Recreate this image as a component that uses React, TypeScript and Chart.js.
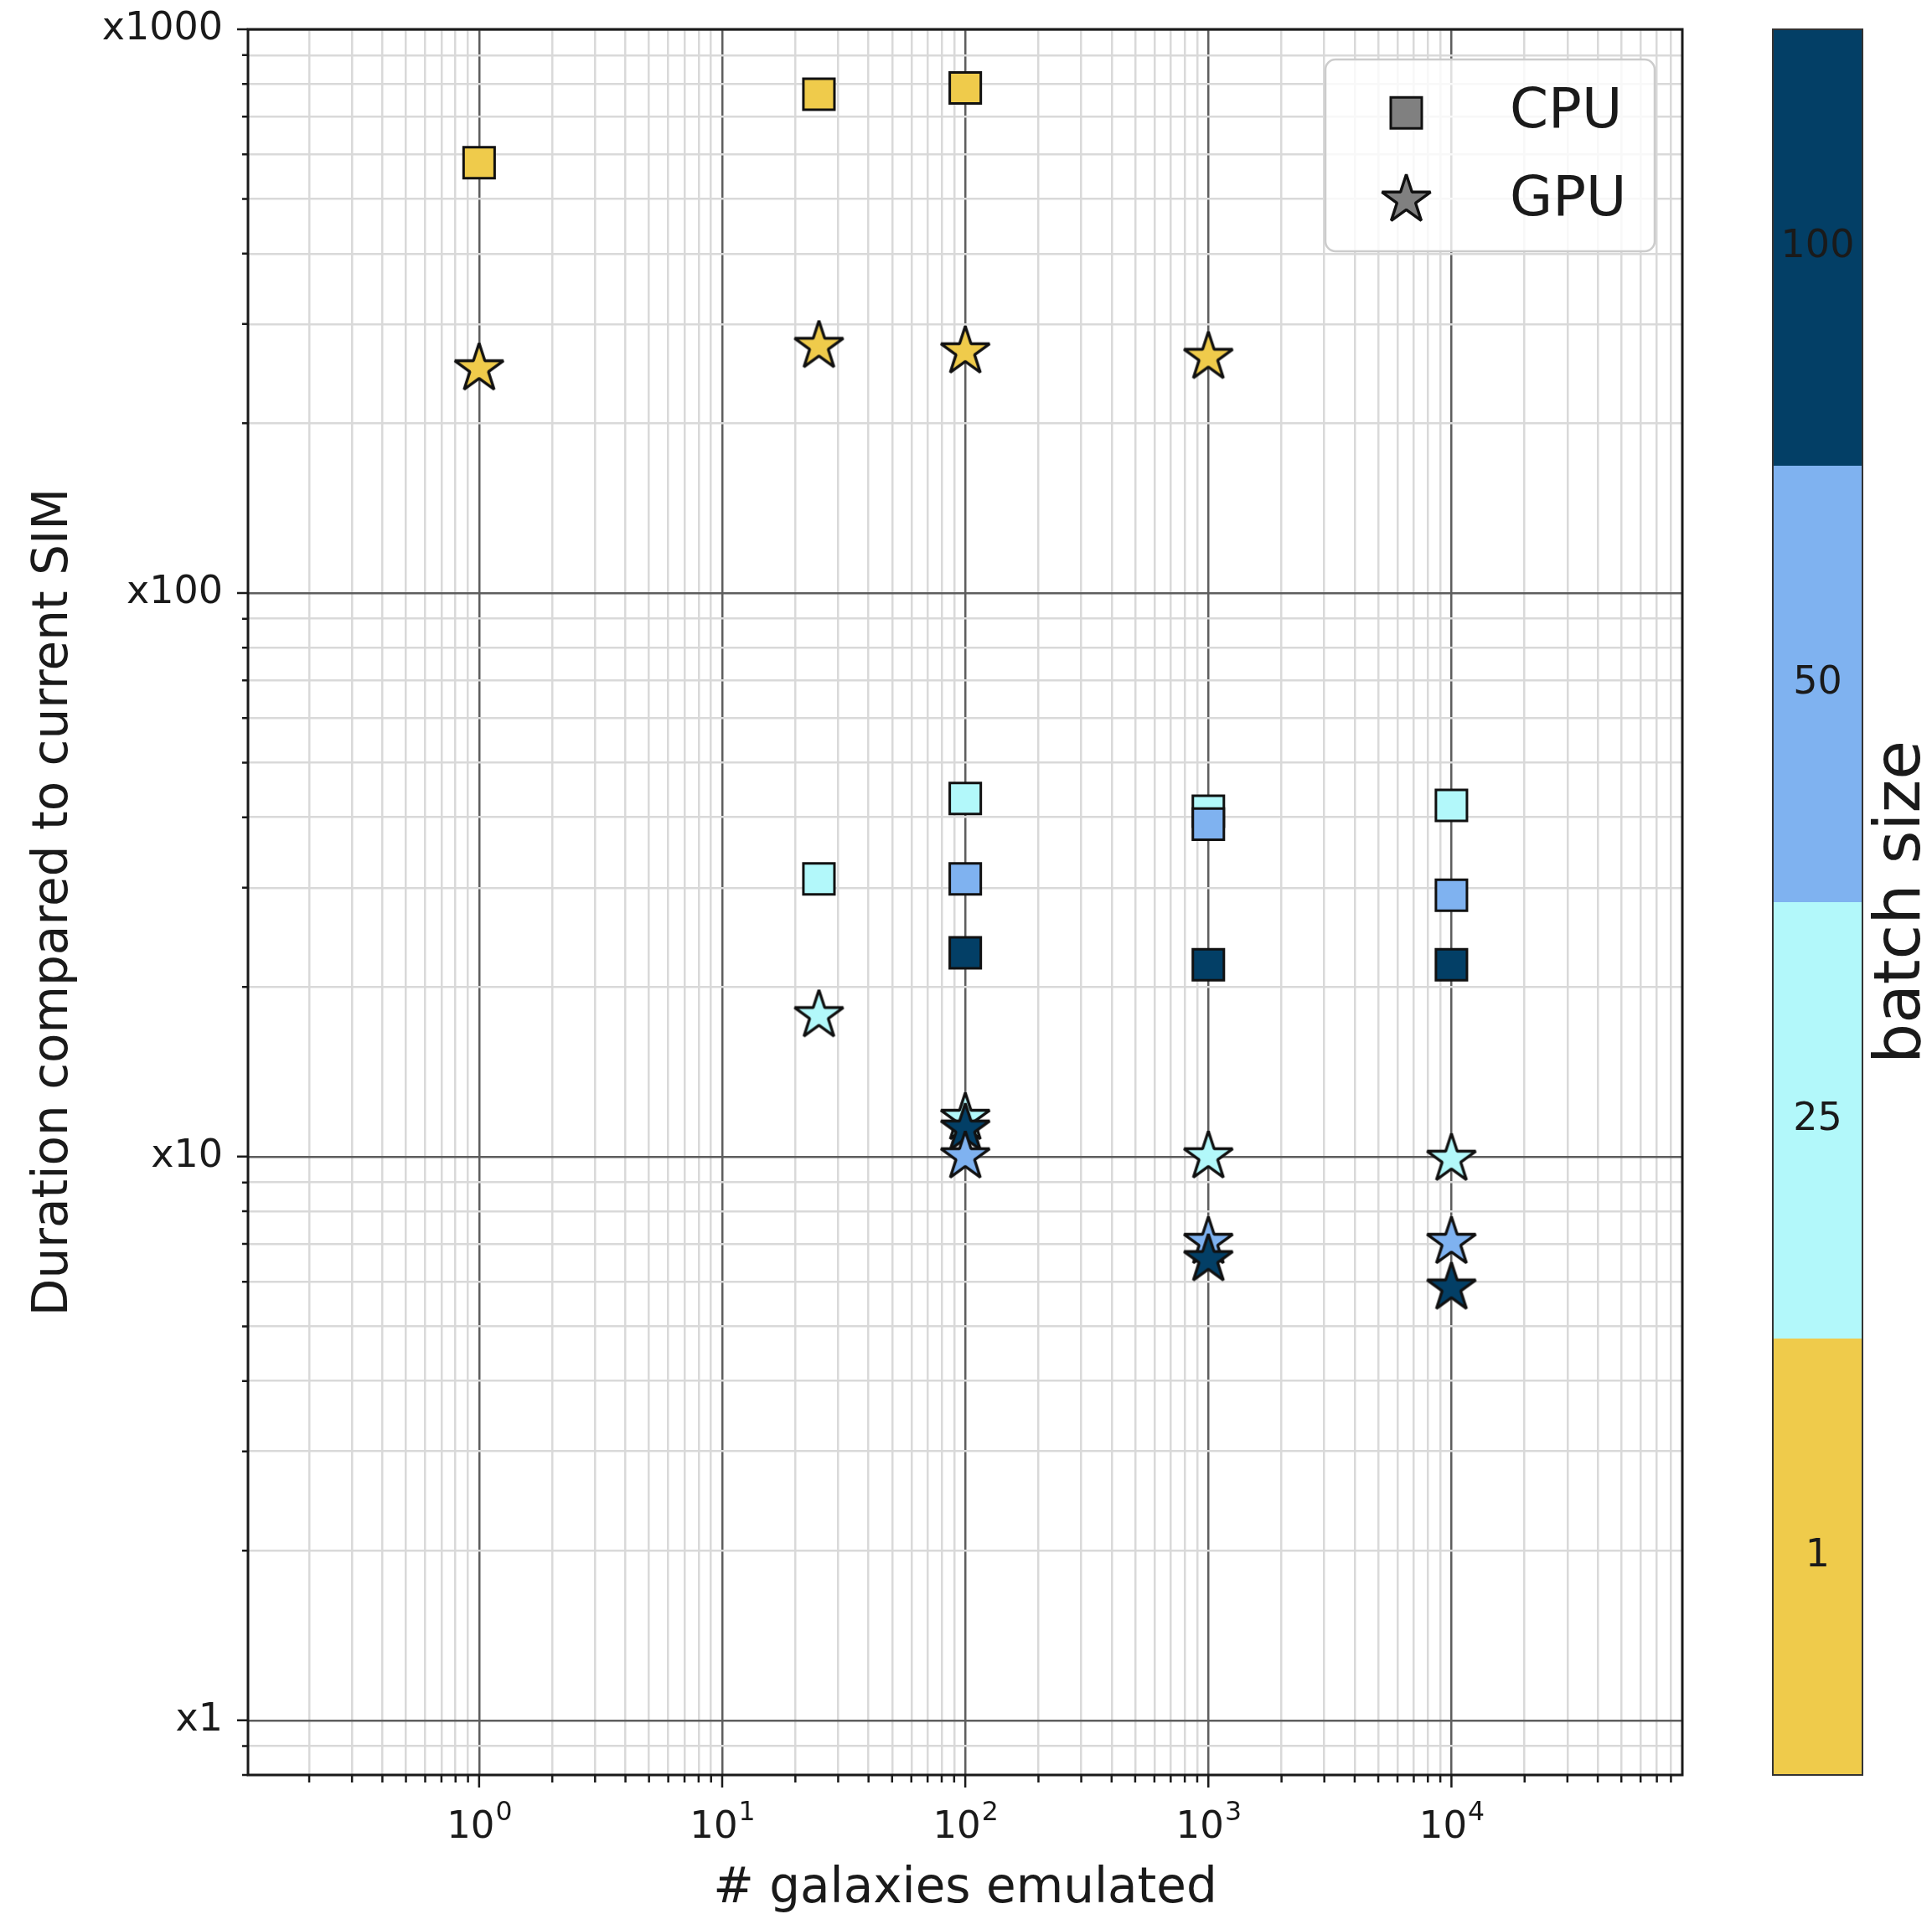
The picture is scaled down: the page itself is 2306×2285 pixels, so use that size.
import React, { useEffect, useRef } from 'react';
import { Chart, registerables } from 'chart.js';

Chart.register(...registerables);

// ---- batch sizes / colour map ----
const BATCH_SIZES = [1, 25, 50, 100];
const BATCH_LABELS = ['1', '25', '50', '100'];
const BATCH_COLORS = ['#EFCB4B', '#B2F8FA', '#7FB2F0', '#033F66'];

// ---- CPU (squares) ----
const CPU_B1_X = [1, 25, 100];
const CPU_B1_Y = [580, 767, 787];
const CPU_B25_X = [25, 100, 1000, 10000];
const CPU_B25_Y = [31.1, 43.2, 41.0, 42.0];
const CPU_B50_X = [100, 1000, 10000];
const CPU_B50_Y = [31.1, 38.9, 29.1];
const CPU_B100_X = [100, 1000, 10000];
const CPU_B100_Y = [23.0, 21.9, 21.9];

// ---- GPU (stars) ----
const GPU_B1_X = [1, 25, 100, 1000];
const GPU_B1_Y = [250, 274, 268, 262];
const GPU_B25_X = [25, 100, 1000, 10000];
const GPU_B25_Y = [17.8, 11.7, 10.0, 9.9];
const GPU_B50_X = [100, 1000, 10000];
const GPU_B50_Y = [10.0, 7.05, 7.05];
const GPU_B100_X = [100, 1000, 10000];
const GPU_B100_Y = [11.2, 6.57, 5.85];

// ---- axes ----
const X_MIN = 0.112;
const X_MAX = 89100;
const Y_MIN = 0.8;
const Y_MAX = 1000;
const X_MAJOR = [1, 10, 100, 1000, 10000];
const X_MAJOR_EXP = ['0', '1', '2', '3', '4'];
const Y_MAJOR = [1, 10, 100, 1000];
const Y_MAJOR_LABELS = ['x1', 'x10', 'x100', 'x1000'];
const X_TITLE = '# galaxies emulated';
const Y_TITLE = 'Duration compared to current SIM';
const CBAR_TITLE = 'batch size';
const LEGEND_LABELS = ['CPU', 'GPU'];
const LEGEND_COLOR = '#808080';

const FONT = "'DejaVu Sans', 'Liberation Sans', sans-serif";
const TEXT = '#1a1a1a';
const EDGE = '#111111';

function isMajor(v: number) {
  const l = Math.log10(v);
  return Math.abs(l - Math.round(l)) < 1e-9;
}

function logTicks(min: number, max: number) {
  const out: number[] = [];
  const e0 = Math.floor(Math.log10(min));
  const e1 = Math.ceil(Math.log10(max));
  for (let e = e0; e <= e1; e++) {
    for (let m = 1; m <= 9; m++) {
      const v = parseFloat((m * Math.pow(10, e)).toPrecision(6));
      if (v >= min * 0.9999 && v <= max * 1.0001) out.push(v);
    }
  }
  return out;
}

function starPath(g: CanvasRenderingContext2D, cx: number, cy: number, R: number) {
  const r = R * 0.381966;
  g.beginPath();
  for (let i = 0; i < 10; i++) {
    const ang = -Math.PI / 2 + (i * Math.PI) / 5;
    const rr = i % 2 === 0 ? R : r;
    const x = cx + rr * Math.cos(ang);
    const y = cy + rr * Math.sin(ang);
    if (i === 0) g.moveTo(x, y);
    else g.lineTo(x, y);
  }
  g.closePath();
}

const STAR_R = 30.5;
const STAR_LW = 3.4;

function makeStar(fill: string): HTMLCanvasElement {
  const size = Math.ceil(2 * (STAR_R + STAR_LW)) + 4;
  const c = document.createElement('canvas');
  c.width = size;
  c.height = size;
  const g = c.getContext('2d')!;
  starPath(g, size / 2, size / 2, STAR_R);
  g.fillStyle = fill;
  g.fill();
  g.lineWidth = STAR_LW;
  g.lineJoin = 'bevel';
  g.strokeStyle = EDGE;
  g.stroke();
  return c;
}

type Pt = { x: number; y: number; b: number };

function collect(groups: [number[], number[]][]): Pt[] {
  const pts: Pt[] = [];
  groups.forEach(([xs, ys], b) => {
    xs.forEach((x, i) => pts.push({ x, y: ys[i], b }));
  });
  // lower values are drawn on top
  pts.sort((a, c) => c.y - a.y);
  return pts;
}

const decorPlugin = {
  id: 'decor',
  afterDraw(chart: any) {
    const ctx: CanvasRenderingContext2D = chart.ctx;
    const { left, right, top, bottom } = chart.chartArea;
    const xs = chart.scales.x;
    const ys = chart.scales.y;
    ctx.save();

    // tick marks
    ctx.strokeStyle = TEXT;
    ctx.lineWidth = 2.5;
    ctx.beginPath();
    xs.ticks.forEach((t: any) => {
      const px = xs.getPixelForValue(t.value);
      const L = isMajor(t.value) ? 15 : 9;
      ctx.moveTo(px, bottom);
      ctx.lineTo(px, bottom + L);
    });
    ys.ticks.forEach((t: any) => {
      const py = ys.getPixelForValue(t.value);
      const L = isMajor(t.value) ? 13 : 7;
      ctx.moveTo(left, py);
      ctx.lineTo(left - L, py);
    });
    ctx.stroke();

    // spines
    ctx.lineWidth = 3;
    ctx.strokeStyle = TEXT;
    ctx.strokeRect(left, top, right - left, bottom - top);

    // x tick labels (10^n)
    ctx.fillStyle = TEXT;
    ctx.textBaseline = 'alphabetic';
    ctx.textAlign = 'left';
    const big = `45px ${FONT}`;
    const small = `31.5px ${FONT}`;
    X_MAJOR.forEach((v, i) => {
      const px = xs.getPixelForValue(v);
      ctx.font = big;
      const w1 = ctx.measureText('10').width;
      ctx.font = small;
      const w2 = ctx.measureText(X_MAJOR_EXP[i]).width;
      const x0 = px - (w1 + w2) / 2;
      ctx.font = big;
      ctx.fillText('10', x0, 2194);
      ctx.font = small;
      ctx.fillText(X_MAJOR_EXP[i], x0 + w1 + 1, 2173);
    });

    // axis titles
    ctx.font = `58px ${FONT}`;
    ctx.textAlign = 'center';
    ctx.fillText(X_TITLE, (left + right) / 2, 2271);
    ctx.save();
    ctx.translate(80, (top + bottom) / 2);
    ctx.rotate(-Math.PI / 2);
    ctx.fillText(Y_TITLE, 0, 0);
    ctx.restore();

    // legend
    const lx = 1582, ly = 71, lw = 393, lh = 229;
    ctx.beginPath();
    (ctx as any).roundRect(lx, ly, lw, lh, 12);
    ctx.fillStyle = 'rgba(255,255,255,0.8)';
    ctx.fill();
    ctx.lineWidth = 2.5;
    ctx.strokeStyle = '#cccccc';
    ctx.stroke();
    // square
    ctx.fillStyle = LEGEND_COLOR;
    ctx.strokeStyle = EDGE;
    ctx.lineWidth = 3;
    ctx.beginPath();
    ctx.rect(1678.5 - 18.5, 134.8 - 18.5, 37, 37);
    ctx.fill();
    ctx.stroke();
    // star
    starPath(ctx, 1678.5, 238.7, STAR_R);
    ctx.fill();
    ctx.lineWidth = STAR_LW;
    ctx.lineJoin = 'bevel';
    ctx.stroke();
    ctx.lineJoin = 'miter';
    ctx.fillStyle = TEXT;
    ctx.font = `66px ${FONT}`;
    ctx.textAlign = 'left';
    ctx.fillText(LEGEND_LABELS[0], 1802, 151.5);
    ctx.fillText(LEGEND_LABELS[1], 1802, 257);

    // colour bar
    const cx0 = 2116, cx1 = 2223;
    const n = BATCH_SIZES.length;
    const segH = (bottom - top) / n;
    for (let i = 0; i < n; i++) {
      const y1 = bottom - i * segH;
      const y0 = y1 - segH;
      ctx.fillStyle = BATCH_COLORS[i];
      ctx.fillRect(cx0, y0, cx1 - cx0, y1 - y0);
    }
    ctx.strokeStyle = '#333333';
    ctx.lineWidth = 2;
    ctx.strokeRect(cx0, top, cx1 - cx0, bottom - top);
    ctx.fillStyle = TEXT;
    ctx.font = `46px ${FONT}`;
    ctx.textAlign = 'center';
    ctx.textBaseline = 'middle';
    for (let i = 0; i < n; i++) {
      const yc = bottom - (i + 0.5) * segH;
      ctx.fillText(BATCH_LABELS[i], (cx0 + cx1) / 2, yc);
    }
    ctx.textBaseline = 'alphabetic';
    ctx.font = `76px ${FONT}`;
    ctx.save();
    ctx.translate(2291, (top + bottom) / 2);
    ctx.rotate(-Math.PI / 2);
    ctx.fillText(CBAR_TITLE, 0, 0);
    ctx.restore();

    ctx.restore();
  },
};

export default function App() {
  const ref = useRef<HTMLCanvasElement | null>(null);

  useEffect(() => {
    if (!ref.current) return;
    const stars = BATCH_COLORS.map((c) => makeStar(c));
    const cpu = collect([
      [CPU_B1_X, CPU_B1_Y],
      [CPU_B25_X, CPU_B25_Y],
      [CPU_B50_X, CPU_B50_Y],
      [CPU_B100_X, CPU_B100_Y],
    ]);
    const gpu = collect([
      [GPU_B1_X, GPU_B1_Y],
      [GPU_B25_X, GPU_B25_Y],
      [GPU_B50_X, GPU_B50_Y],
      [GPU_B100_X, GPU_B100_Y],
    ]);
    const xTicks = logTicks(X_MIN, X_MAX);
    const yTicks = logTicks(Y_MIN, Y_MAX);

    const gridColor = (c: any) =>
      c.tick && isMajor(c.tick.value) ? '#5e5e5e' : '#d9d9d9';

    const chart = new Chart(ref.current, {
      type: 'scatter',
      data: {
        datasets: [
          {
            label: 'CPU',
            data: cpu.map((p) => ({ x: p.x, y: p.y })),
            pointStyle: 'rect',
            pointRadius: 26.2,
            pointHoverRadius: 26.2,
            pointBackgroundColor: cpu.map((p) => BATCH_COLORS[p.b]),
            pointBorderColor: EDGE,
            pointBorderWidth: 3,
            pointHoverBorderWidth: 3,
          } as any,
          {
            label: 'GPU',
            data: gpu.map((p) => ({ x: p.x, y: p.y })),
            pointStyle: gpu.map((p) => stars[p.b]),
            pointRadius: 30,
            pointHoverRadius: 30,
            pointBackgroundColor: gpu.map((p) => BATCH_COLORS[p.b]),
            pointBorderColor: EDGE,
          } as any,
        ],
      },
      options: {
        animation: false,
        responsive: false,
        maintainAspectRatio: false,
        devicePixelRatio: 1,
        events: [],
        layout: { padding: { left: 0, top: 35, right: 298, bottom: 0 } },
        plugins: {
          legend: { display: false },
          tooltip: { enabled: false },
        },
        scales: {
          x: {
            type: 'logarithmic',
            position: 'bottom',
            min: X_MIN,
            max: X_MAX,
            afterBuildTicks: (s: any) => {
              s.ticks = xTicks.map((v) => ({ value: v, major: isMajor(v) }));
            },
            afterFit: (s: any) => {
              s.height = 166;
              s.paddingLeft = 0;
              s.paddingRight = 0;
              s.paddingTop = 0;
              s.paddingBottom = 0;
            },
            ticks: { display: false, autoSkip: false },
            grid: { color: gridColor, lineWidth: 2.5, drawTicks: false },
            border: { display: false },
          },
          y: {
            type: 'logarithmic',
            position: 'left',
            min: Y_MIN,
            max: Y_MAX,
            afterBuildTicks: (s: any) => {
              s.ticks = yTicks.map((v) => ({ value: v, major: isMajor(v) }));
            },
            afterFit: (s: any) => {
              s.width = 296;
              s.paddingTop = 0;
              s.paddingBottom = 0;
              s.paddingLeft = 0;
              s.paddingRight = 0;
            },
            ticks: {
              autoSkip: false,
              padding: 30,
              color: TEXT,
              font: { family: FONT, size: 46 },
              callback: (value: any) => {
                const v = Number(value);
                const idx = Y_MAJOR.findIndex((m) => Math.abs(m - v) / m < 1e-6);
                return idx >= 0 ? Y_MAJOR_LABELS[idx] : '';
              },
            },
            grid: { color: gridColor, lineWidth: 2.5, drawTicks: false },
            border: { display: false },
          },
        },
      } as any,
      plugins: [decorPlugin],
    });
    return () => chart.destroy();
  }, []);

  return (
    <div
      style={{
        position: 'fixed',
        left: 0,
        top: 0,
        width: 2306,
        height: 2285,
        background: '#ffffff',
      }}
    >
      <canvas
        ref={ref}
        width={2306}
        height={2285}
        style={{ width: 2306, height: 2285, display: 'block' }}
      />
    </div>
  );
}
